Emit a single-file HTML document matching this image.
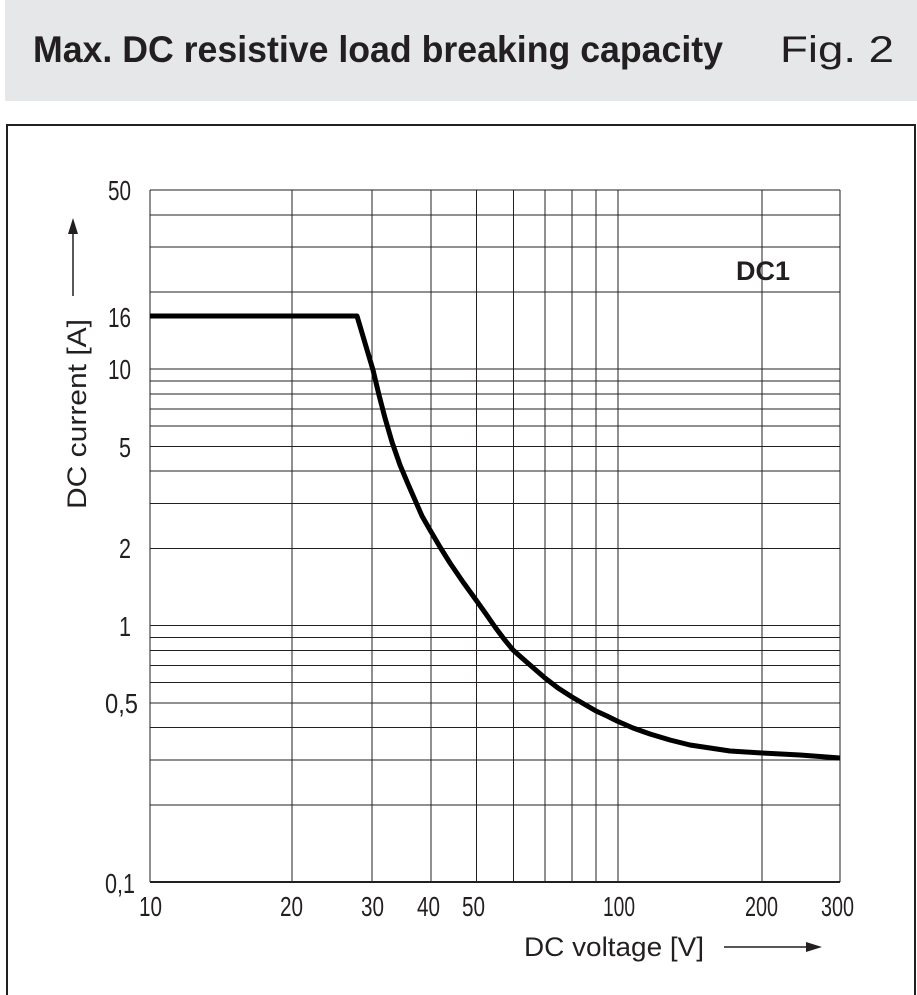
<!DOCTYPE html>
<html><head><style>body{margin:0;background:#fff}svg{display:block}text{font-family:"Liberation Sans",Arial,sans-serif}</style></head><body>
<svg width="917" height="995" xmlns="http://www.w3.org/2000/svg">
<rect x="5" y="0" width="912" height="101" fill="#e6e7e8"/>
<text x="33" y="62" font-size="37" font-weight="bold" fill="#231f20" textLength="690" lengthAdjust="spacingAndGlyphs">Max. DC resistive load breaking capacity</text>
<text x="780" y="62" font-size="37" fill="#231f20" textLength="114" lengthAdjust="spacingAndGlyphs">Fig. 2</text>
<rect x="7" y="125" width="908" height="880" fill="none" stroke="#231f20" stroke-width="2"/>
<g stroke="#231f20" stroke-width="1">
<line x1="150" y1="190" x2="150" y2="882"/><line x1="292" y1="190" x2="292" y2="882"/><line x1="372" y1="190" x2="372" y2="882"/><line x1="431" y1="190" x2="431" y2="882"/><line x1="476.5" y1="190" x2="476.5" y2="882"/><line x1="513.5" y1="190" x2="513.5" y2="882"/><line x1="545" y1="190" x2="545" y2="882"/><line x1="572" y1="190" x2="572" y2="882"/><line x1="596" y1="190" x2="596" y2="882"/><line x1="618" y1="190" x2="618" y2="882"/><line x1="762" y1="190" x2="762" y2="882"/><line x1="840" y1="190" x2="840" y2="882"/>
<line x1="150" y1="805" x2="840" y2="805"/><line x1="150" y1="760" x2="840" y2="760"/><line x1="150" y1="727.5" x2="840" y2="727.5"/><line x1="150" y1="703" x2="840" y2="703"/><line x1="150" y1="682.5" x2="840" y2="682.5"/><line x1="150" y1="665.5" x2="840" y2="665.5"/><line x1="150" y1="650.5" x2="840" y2="650.5"/><line x1="150" y1="637.5" x2="840" y2="637.5"/><line x1="150" y1="625.5" x2="840" y2="625.5"/>
<line x1="150" y1="548.5" x2="840" y2="548.5"/><line x1="150" y1="503.5" x2="840" y2="503.5"/><line x1="150" y1="471" x2="840" y2="471"/><line x1="150" y1="446.5" x2="840" y2="446.5"/><line x1="150" y1="426" x2="840" y2="426"/><line x1="150" y1="409" x2="840" y2="409"/><line x1="150" y1="394" x2="840" y2="394"/><line x1="150" y1="381" x2="840" y2="381"/><line x1="150" y1="369" x2="840" y2="369"/>
<line x1="150" y1="292" x2="840" y2="292"/><line x1="150" y1="247" x2="840" y2="247"/><line x1="150" y1="215" x2="840" y2="215"/><line x1="150" y1="190" x2="840" y2="190"/>
<line x1="150" y1="882" x2="840" y2="882" stroke-width="2"/>
</g>
<g font-size="28" fill="#231f20">
<text x="139" y="916" textLength="23" lengthAdjust="spacingAndGlyphs">10</text><text x="280" y="916" textLength="23" lengthAdjust="spacingAndGlyphs">20</text><text x="361" y="916" textLength="23" lengthAdjust="spacingAndGlyphs">30</text><text x="417" y="916" textLength="23" lengthAdjust="spacingAndGlyphs">40</text><text x="462" y="916" textLength="23" lengthAdjust="spacingAndGlyphs">50</text><text x="603" y="916" textLength="32" lengthAdjust="spacingAndGlyphs">100</text><text x="745" y="916" textLength="33" lengthAdjust="spacingAndGlyphs">200</text><text x="821" y="916" textLength="33" lengthAdjust="spacingAndGlyphs">300</text>
<text x="108" y="200" textLength="23" lengthAdjust="spacingAndGlyphs">50</text><text x="108" y="327" textLength="23" lengthAdjust="spacingAndGlyphs">16</text><text x="108" y="379" textLength="23" lengthAdjust="spacingAndGlyphs">10</text><text x="119" y="457" textLength="12" lengthAdjust="spacingAndGlyphs">5</text><text x="119" y="558" textLength="12" lengthAdjust="spacingAndGlyphs">2</text><text x="119" y="636" textLength="12" lengthAdjust="spacingAndGlyphs">1</text><text x="105" y="713" textLength="33" lengthAdjust="spacingAndGlyphs">0,5</text><text x="105" y="893" textLength="30" lengthAdjust="spacingAndGlyphs">0,1</text>
</g>
<text x="736" y="280" font-size="27" font-weight="bold" fill="#231f20" textLength="54" lengthAdjust="spacingAndGlyphs">DC1</text>
<text transform="translate(86,509) rotate(-90)" font-size="27" fill="#231f20" textLength="190" lengthAdjust="spacingAndGlyphs">DC current [A]</text>
<line x1="73" y1="296" x2="73" y2="230" stroke="#231f20" stroke-width="1.5"/>
<polygon points="73,218 68,234 78,234" fill="#231f20"/>
<text x="524" y="956" font-size="27" fill="#231f20" textLength="180" lengthAdjust="spacingAndGlyphs">DC voltage [V]</text>
<line x1="724" y1="947" x2="810" y2="947" stroke="#231f20" stroke-width="1.5"/>
<polygon points="822,947 806,942 806,952" fill="#231f20"/>
<polyline fill="none" stroke="#000" stroke-width="5" stroke-linejoin="round" points="150,316 357,316 365,343 373,370 379,395 385,418 392,442 400,465 408,484 415,500 422,516 430,530 440,547 450,563 463,582 476,600 486,614 495,627 504,639 513,650 522,658 530,665 545,678 558,688 572,697 584,704 596,711 607,716 617,721 633,728 650,734 670,740 690,745 710,748 730,751 762,753 800,755 840,758"/>
</svg>
</body></html>
